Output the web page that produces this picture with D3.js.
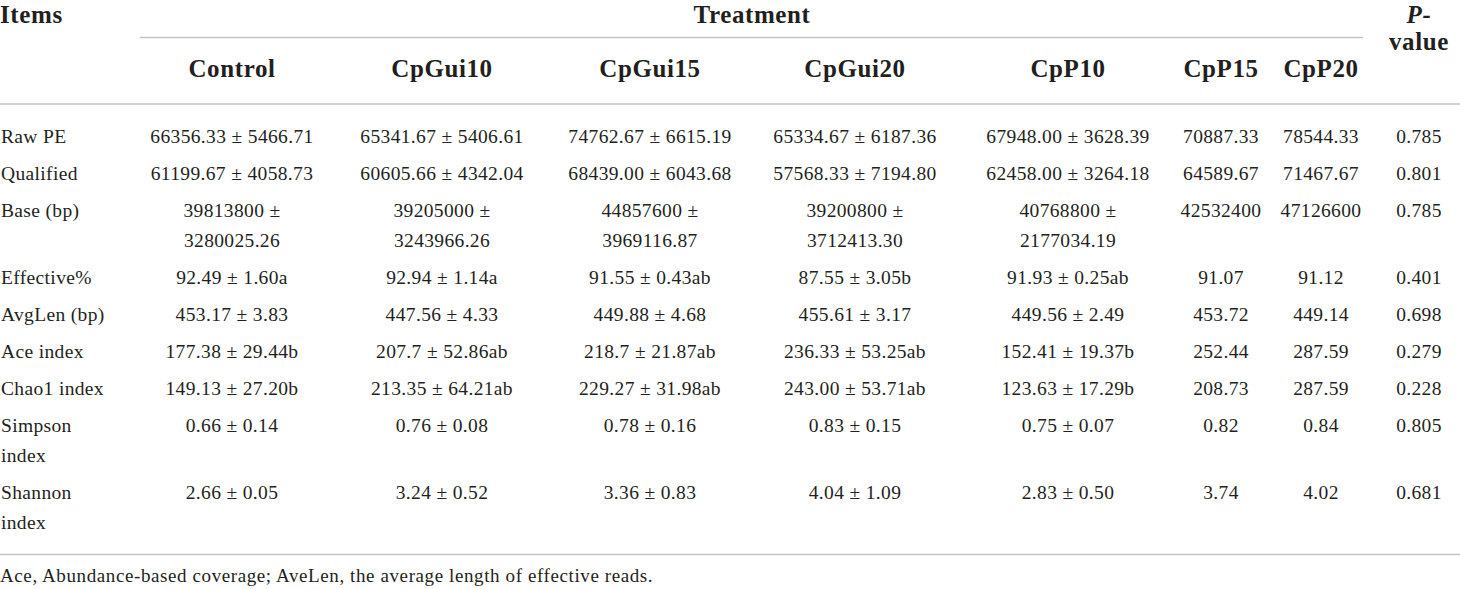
<!DOCTYPE html>
<html>
<head>
<meta charset="utf-8">
<script src="https://cdn.jsdelivr.net/npm/d3@7"></script>
<style>
  html, body { margin: 0; padding: 0; background: #fff; }
  svg { display: block; }
  text { font-family: "Liberation Serif", "Times New Roman", serif; fill: #231f20; }
</style>
</head>
<body>
<div id="table"></div>
<script>
// table content
const treatments = ["Control", "CpGui10", "CpGui15", "CpGui20", "CpP10", "CpP15", "CpP20"];
const items = [["Raw PE"], ["Qualified"], ["Base (bp)"], ["Effective%"], ["AvgLen (bp)"],
               ["Ace index"], ["Chao1 index"], ["Simpson", "index"], ["Shannon", "index"]];

const rawPE      = ["66356.33 ± 5466.71", "65341.67 ± 5406.61", "74762.67 ± 6615.19", "65334.67 ± 6187.36", "67948.00 ± 3628.39", "70887.33", "78544.33"];
const qualified  = ["61199.67 ± 4058.73", "60605.66 ± 4342.04", "68439.00 ± 6043.68", "57568.33 ± 7194.80", "62458.00 ± 3264.18", "64589.67", "71467.67"];
const baseBp     = ["39813800 ± 3280025.26", "39205000 ± 3243966.26", "44857600 ± 3969116.87", "39200800 ± 3712413.30", "40768800 ± 2177034.19", "42532400", "47126600"];
const effective  = ["92.49 ± 1.60a", "92.94 ± 1.14a", "91.55 ± 0.43ab", "87.55 ± 3.05b", "91.93 ± 0.25ab", "91.07", "91.12"];
const avgLen     = ["453.17 ± 3.83", "447.56 ± 4.33", "449.88 ± 4.68", "455.61 ± 3.17", "449.56 ± 2.49", "453.72", "449.14"];
const aceIndex   = ["177.38 ± 29.44b", "207.7 ± 52.86ab", "218.7 ± 21.87ab", "236.33 ± 53.25ab", "152.41 ± 19.37b", "252.44", "287.59"];
const chao1Index = ["149.13 ± 27.20b", "213.35 ± 64.21ab", "229.27 ± 31.98ab", "243.00 ± 53.71ab", "123.63 ± 17.29b", "208.73", "287.59"];
const simpson    = ["0.66 ± 0.14", "0.76 ± 0.08", "0.78 ± 0.16", "0.83 ± 0.15", "0.75 ± 0.07", "0.82", "0.84"];
const shannon    = ["2.66 ± 0.05", "3.24 ± 0.52", "3.36 ± 0.83", "4.04 ± 1.09", "2.83 ± 0.50", "3.74", "4.02"];
const pValues    = ["0.785", "0.801", "0.785", "0.401", "0.698", "0.279", "0.228", "0.805", "0.681"];

const footnote = "Ace, Abundance-based coverage; AveLen, the average length of effective reads.";

const cells = [rawPE, qualified, baseBp, effective, avgLen, aceIndex, chao1Index, simpson, shannon];

const W = 1460, H = 589;
const svg = d3.select("#table").append("svg")
    .attr("width", W)
    .attr("height", H);

// column centres
const x = d3.scaleOrdinal()
    .domain(treatments.concat(["P"]))
    .range([232, 442, 650, 855, 1068, 1221, 1321, 1419]);

// row baselines: 37px per row plus 30px for each extra line above
const rowStep = 37, lineStep = 30, firstBase = 143;
const lineCount = items.map((d, i) => {
  const wrap = cells[i].some(c => c.length > 20) ? 2 : 1;
  return Math.max(d.length, wrap);
});
const extra = d3.cumsum([0].concat(lineCount.map(n => n - 1)));
const y = d3.scaleLinear().domain([0, 1]).range([firstBase, firstBase + rowStep]);
const rowY = i => y(i) + extra[i] * lineStep;

// rules
const rule = (x1, x2, yy) => svg.append("line")
    .attr("x1", x1).attr("x2", x2).attr("y1", yy).attr("y2", yy)
    .attr("stroke", "#c4c4c4").attr("stroke-width", 1.3);
rule(140, 1363, 37.5);
rule(0, W, 104);
rule(0, W, 554.5);

// header
const head = svg.append("g").style("font-weight", "bold").style("font-size", "25px")
    .style("letter-spacing", "0.6px");
head.append("text").attr("x", 0).attr("y", 23).text("Items");
head.append("text").attr("x", 752).attr("y", 23).attr("text-anchor", "middle").text("Treatment");
head.selectAll("text.col")
  .data(treatments)
  .join("text")
    .attr("class", "col")
    .attr("x", d => x(d))
    .attr("y", 77)
    .attr("text-anchor", "middle")
    .text(d => d);
const pv = head.append("text").attr("text-anchor", "middle");
pv.append("tspan").attr("x", x("P")).attr("y", 23).style("font-style", "italic").text("P-");
pv.append("tspan").attr("x", x("P")).attr("y", 50).text("value");

// body
const body = svg.append("g").style("font-size", "19.5px").style("letter-spacing", "0.35px");

items.forEach((lines, i) => {
  const t = body.append("text").attr("x", 1).attr("y", rowY(i));
  lines.forEach((s, k) => t.append("tspan").attr("x", 1).attr("y", rowY(i) + k * lineStep).text(s));
});

cells.forEach((row, i) => {
  row.forEach((val, j) => {
    const parts = val.length > 20 ? [val.slice(0, val.indexOf("±") + 1), val.slice(val.indexOf("±") + 2)] : [val];
    const t = body.append("text").attr("text-anchor", "middle");
    parts.forEach((s, k) => t.append("tspan")
        .attr("x", x(treatments[j]))
        .attr("y", rowY(i) + k * lineStep)
        .text(s));
  });
});

body.selectAll("text.p")
  .data(pValues)
  .join("text")
    .attr("class", "p")
    .attr("x", x("P"))
    .attr("y", (d, i) => rowY(i))
    .attr("text-anchor", "middle")
    .text(d => d);

svg.append("text")
    .attr("x", 0)
    .attr("y", 582)
    .style("font-size", "19px")
    .style("letter-spacing", "0.6px")
    .text(footnote);
</script>
</body>
</html>
